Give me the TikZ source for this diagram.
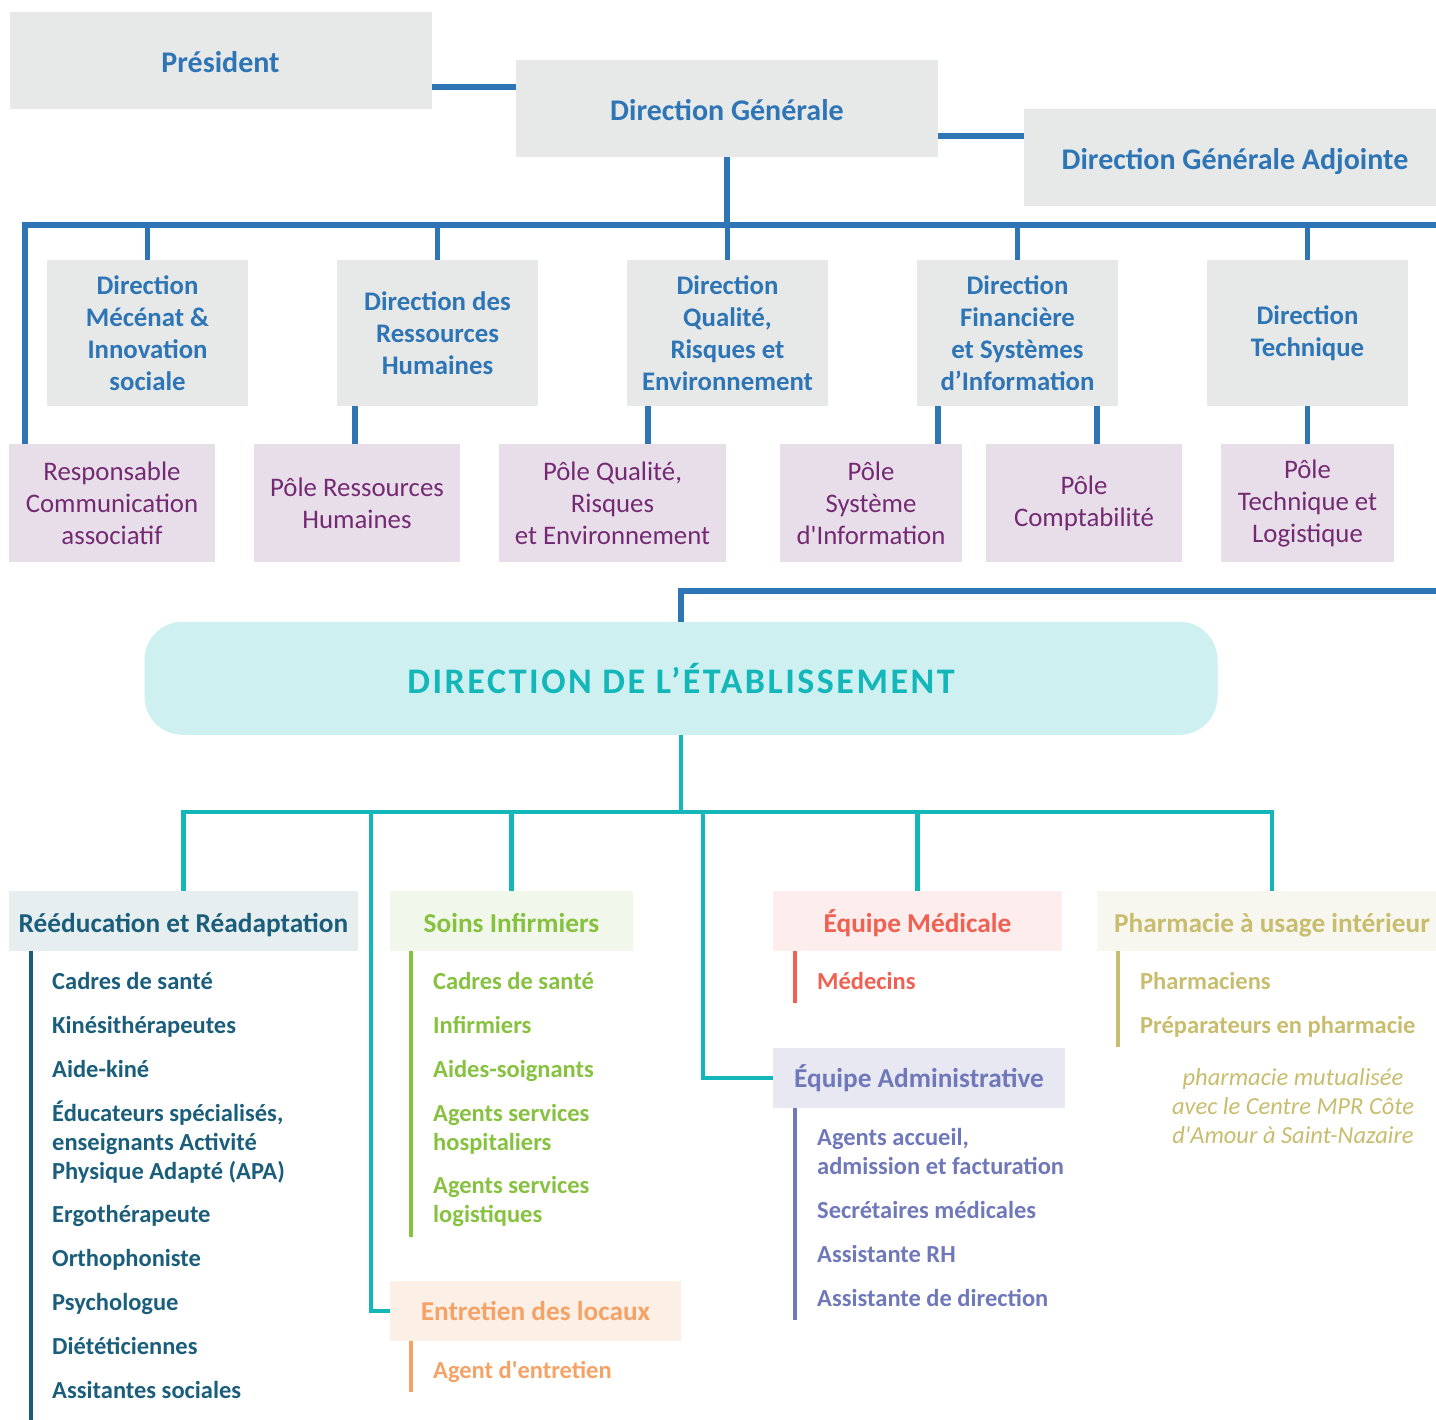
\documentclass[tikz,border=0pt]{standalone}
\usepackage{fontspec}
\setmainfont{Carlito}
\newfontfamily\titlefont[LetterSpace=7]{Carlito}
\usetikzlibrary{positioning}

\definecolor{dirblue}{HTML}{2E75B6}
\definecolor{dirgrey}{HTML}{E7E8E8}
\definecolor{poleback}{HTML}{E8DEEA}
\definecolor{poletext}{HTML}{742A72}
\definecolor{tealline}{HTML}{13B7B9}
\definecolor{tealback}{HTML}{CEF0F0}
\definecolor{reedtext}{HTML}{1B5E7B}
\definecolor{reedback}{HTML}{E6EEF0}
\definecolor{soinstext}{HTML}{86C13F}
\definecolor{soinsback}{HTML}{F1F7EB}
\definecolor{entrtext}{HTML}{F5A266}
\definecolor{entrback}{HTML}{FCEFE6}
\definecolor{medtext}{HTML}{EF6152}
\definecolor{medback}{HTML}{FDEDEC}
\definecolor{admtext}{HTML}{6F78B9}
\definecolor{admback}{HTML}{E8E8F3}
\definecolor{phartext}{HTML}{C8BD6E}
\definecolor{pharback}{HTML}{F7F7EF}

\tikzset{
  topbox/.style={fill=dirgrey,text=dirblue,font=\fontsize{30}{34}\selectfont\bfseries,
    minimum width=422pt,minimum height=97pt,inner sep=0pt,text height=24pt,text depth=0pt},
  dirbox/.style={fill=dirgrey,text=dirblue,font=\fontsize{26.8}{32}\selectfont\bfseries,
    minimum width=201pt,minimum height=146pt,inner sep=0pt,align=center},
  polebox/.style={fill=poleback,text=poletext,font=\fontsize{26.8}{32}\selectfont,
    minimum height=118pt,inner sep=0pt,align=center},
  grouphead/.style={minimum height=60pt,inner sep=0pt,text height=22pt,text depth=0pt,
    font=\fontsize{27.3}{30}\selectfont\bfseries},
  item/.style={anchor=base west,inner sep=0pt,align=left,font=\fontsize{24.5}{29}\selectfont\bfseries},
  link/.style={draw=dirblue,line width=5.5pt},
  tlink/.style={draw=tealline,line width=4.5pt},
  bar/.style={line width=4.5pt}
}

\begin{document}
\begin{tikzpicture}[x=1pt,y=-1pt]
  \useasboundingbox (0,0) rectangle (1436,1420);
  \clip (0,0) rectangle (1436,1420);

  % direction generale
  \node[topbox] (pres) at (220.5,61) {Président};
  \node[topbox] (dg) at (727,108.5) {Direction Générale};
  \node[topbox] (dga) at (1235,157.5) {Direction Générale Adjointe};
  \draw[link] ([yshift=-26pt]pres.east) -- ([yshift=-26pt]pres.east -| dg.west);
  \draw[link] ([yshift=-27.5pt]dg.east) -- ([yshift=-27.5pt]dg.east -| dga.west);

  % directions
  \node[dirbox] (dmi) at (147.5,333) {Direction\\Mécénat \&\\Innovation\\sociale};
  \node[dirbox] (drh) at (437.5,333) {Direction des\\Ressources\\Humaines};
  \node[dirbox] (dqr) at (727.5,333) {Direction\\Qualité,\\Risques et\\Environnement};
  \node[dirbox] (dfs) at (1017.5,333) {Direction\\Financière\\et Systèmes\\d’Information};
  \node[dirbox] (dtl) at (1307.5,333) {Direction\\Technique};

  % poles
  \node[polebox,minimum width=206pt] (rca) at (112,503) {Responsable\\Communication\\associatif};
  \node[polebox,minimum width=206pt] (prh) at (357,503) {Pôle Ressources\\Humaines};
  \node[polebox,minimum width=227pt] (pqr) at (612.5,503) {Pôle Qualité,\\Risques\\et Environnement};
  \node[polebox,minimum width=182pt] (psi) at (871,503) {Pôle\\Système\\d\textquotesingle Information};
  \node[polebox,minimum width=196pt] (pco) at (1084,503) {Pôle\\Comptabilité};
  \node[polebox,minimum width=173pt] (ptl) at (1307.5,503) {Pôle\\Technique et\\Logistique};

  \coordinate (busL) at (25,225);
  \coordinate (busR) at (1440,225);
  \draw[link] (dg.south) -- (dg.south |- busL);
  \draw[link] (rca.north -| busL) -- (busL) -- (busR);
  \foreach \d in {dmi,drh,dqr,dfs,dtl}
    \draw[link] (\d.north) -- (\d.north |- busL);
  \draw[link] ([xshift=-82.5pt]drh.south) -- ([xshift=-82.5pt]drh.south |- prh.north);
  \draw[link] ([xshift=-79.5pt]dqr.south) -- ([xshift=-79.5pt]dqr.south |- pqr.north);
  \draw[link] ([xshift=-79.5pt]dfs.south) -- ([xshift=-79.5pt]dfs.south |- psi.north);
  \draw[link] ([xshift=79.5pt]dfs.south) -- ([xshift=79.5pt]dfs.south |- pco.north);
  \draw[link] (dtl.south) -- (dtl.south |- ptl.north);

  % etablissement
  \node[fill=tealback,rounded corners=38pt,minimum width=1073pt,minimum height=113pt,
    text=tealline,font=\titlefont\fontsize{36}{40}\selectfont\bfseries] (de) at (681,678.3)
    {DIRECTION DE L’ÉTABLISSEMENT};
  \coordinate (blueR) at (1440,591);
  \draw[link] (de.north) |- (blueR);

  \node[grouphead,fill=reedback,text=reedtext,minimum width=349pt] (reed) at (183.5,921) {Rééducation et Réadaptation};
  \node[grouphead,fill=soinsback,text=soinstext,minimum width=243pt] (soins) at (511.5,921) {Soins Infirmiers};
  \node[grouphead,fill=medback,text=medtext,minimum width=289pt] (med) at (917.5,921) {Équipe Médicale};
  \node[grouphead,fill=pharback,text=phartext,minimum width=350pt] (phar) at (1272,921) {Pharmacie à usage intérieur};
  \node[grouphead,fill=admback,text=admtext,minimum width=292pt,text height=18pt] (adm) at (919,1078) {Équipe Administrative};
  \node[grouphead,fill=entrback,text=entrtext,minimum width=291pt,text height=18pt] (ent) at (535.5,1311) {Entretien des locaux};

  \coordinate (tbus) at (0,812);
  \coordinate (tk1) at (371,812);
  \coordinate (tk2) at (703,812);
  \draw[tlink] (de.south) -- (de.south |- tbus);
  \draw[tlink] (reed.north) -- (reed.north |- tbus) -- (phar.north |- tbus) -- (phar.north);
  \foreach \g in {soins,med}
    \draw[tlink] (\g.north) -- (\g.north |- tbus);
  \draw[tlink] (ent.west) -| (tk1);
  \draw[tlink] (adm.west) -| (tk2);

  % bars
  \draw[bar,reedtext] ([xshift=22pt]reed.south west) -- +(0,470);
  \draw[bar,soinstext] ([xshift=21pt]soins.south west) -- +(0,286);
  \draw[bar,entrtext] ([xshift=21pt]ent.south west) -- +(0,51);
  \draw[bar,medtext] ([xshift=22pt]med.south west) -- +(0,52);
  \draw[bar,admtext] ([xshift=22pt]adm.south west) -- +(0,212);
  \draw[bar,phartext] ([xshift=21pt]phar.south west) -- +(0,96);

  % personnel (multi-line entries sit on the baseline of their last line)
  \foreach \y/\t [count=\i] in {989.5/Cadres de santé, 1033.5/Kinésithérapeutes, 1077.5/Aide-kiné,
      1179/{Éducateurs spécialisés,\\enseignants Activité\\Physique Adapté (APA)},
      1222.5/Ergothérapeute, 1266.5/Orthophoniste, 1310.5/Psychologue,
      1354.5/Diététiciennes, 1398.5/Assitantes sociales}
    \node[item,text=reedtext] (reed\i) at (52,\y) {\t};
  \foreach \y/\t [count=\i] in {989.5/Cadres de santé, 1033.5/Infirmiers, 1077.5/Aides-soignants,
      1150/{Agents services\\hospitaliers}, 1222.5/{Agents services\\logistiques}}
    \node[item,text=soinstext] (soins\i) at (433,\y) {\t};
  \node[item,text=entrtext] (ent1) at (433,1378.5) {Agent d\textquotesingle entretien};
  \node[item,text=medtext] (med1) at (817,989) {Médecins};
  \foreach \y/\t [count=\i] in {1174.5/{Agents accueil,\\admission et facturation},
      1218.5/Secrétaires médicales, 1262/Assistante RH, 1306/Assistante de direction}
    \node[item,text=admtext] (adm\i) at (817,\y) {\t};
  \foreach \y/\t [count=\i] in {989/Pharmaciens, 1033.5/Préparateurs en pharmacie}
    \node[item,text=phartext] (phar\i) at (1140,\y) {\t};
  \node[align=center,inner sep=0pt,text=phartext,font=\fontsize{24.5}{29}\selectfont\itshape] (note)
    at (1293,1106) {pharmacie mutualisée\\avec le Centre MPR Côte\\d\textquotesingle Amour à Saint-Nazaire};
\end{tikzpicture}
\end{document}
